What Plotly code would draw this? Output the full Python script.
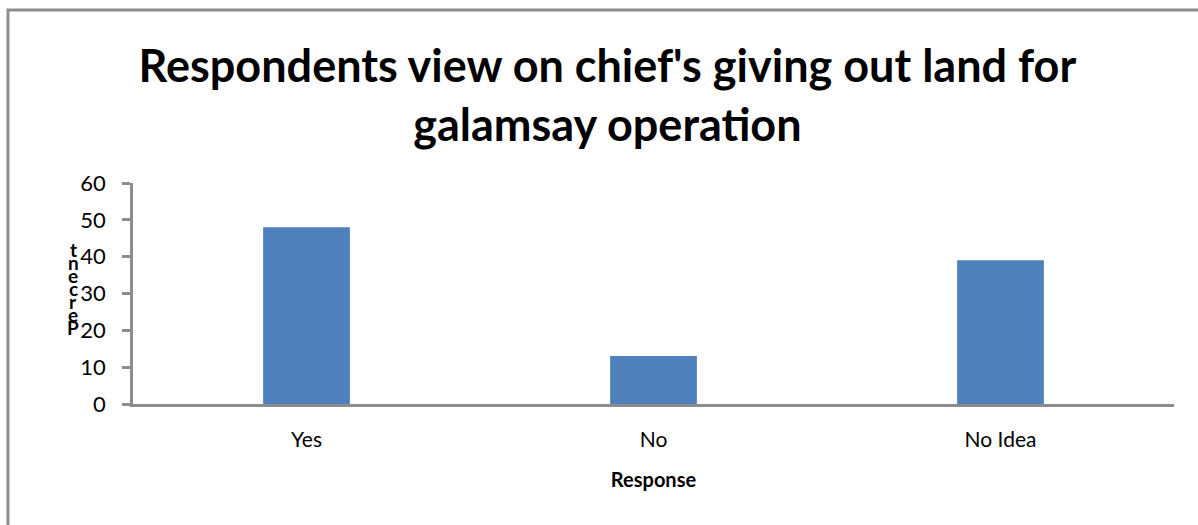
import plotly.graph_objects as go

# Survey responses (percent of respondents)
responses = ["Yes", "No", "No Idea"]
percent = [48, 13, 39]
y_ticks = [0, 10, 20, 30, 40, 50, 60]

title_lines = ["Respondents view on chief's giving out land for", "galamsay operation"]
x_title = "Response"
y_title = "Percent"

FONT = "Lato, 'Open Sans', sans-serif"
AXIS_GREY = "#8c8c8c"

fig = go.Figure(
    go.Bar(
        x=responses,
        y=percent,
        marker=dict(color="#4f81bd", line=dict(width=0)),
        hoverinfo="x+y",
    )
)

fig.update_layout(
    width=1198,
    height=525,
    margin=dict(l=133, r=24, t=183, b=121),
    paper_bgcolor="white",
    plot_bgcolor="white",
    bargap=0.75,
    showlegend=False,
    font=dict(family=FONT, color="black"),
    title=dict(
        text="<br>".join(title_lines),
        x=0.507,
        xanchor="center",
        y=0.843,
        yanchor="bottom",
        font=dict(family=FONT, size=45, color="black", weight="bold"),
    ),
)

fig.update_xaxes(
    showline=True,
    linecolor=AXIS_GREY,
    linewidth=2.5,
    ticks="",
    showgrid=False,
    tickfont=dict(size=21),
    ticklabelstandoff=15,
    title=dict(text=f"<b>{x_title}</b>", font=dict(size=20), standoff=24),
)

fig.update_yaxes(
    range=[0, 60],
    tickvals=y_ticks,
    showline=True,
    linecolor=AXIS_GREY,
    linewidth=2.5,
    ticks="outside",
    ticklen=8,
    tickwidth=2.5,
    tickcolor=AXIS_GREY,
    showgrid=False,
    zeroline=False,
    tickfont=dict(size=22),
    ticklabelstandoff=12,
)

# Y-axis title: letters stacked upright, read bottom to top
n_letters = len(y_title)
top_y, bottom_y = 0.701, 0.348
step = (top_y - bottom_y) / (n_letters - 1)
for i, ch in enumerate(reversed(y_title)):
    fig.add_annotation(
        text=f"<b>{ch}</b>",
        xref="paper",
        yref="paper",
        x=-0.0576,
        y=top_y - i * step,
        showarrow=False,
        font=dict(size=19, color="black"),
        xanchor="center",
        yanchor="middle",
    )

# Chart frame
fig.add_shape(
    type="rect",
    xref="paper",
    yref="paper",
    x0=-0.1201,
    y0=-1.0,
    x1=1.2,
    y1=1.7828,
    line=dict(color=AXIS_GREY, width=3),
    layer="below",
)

fig.write_html("out.html")
